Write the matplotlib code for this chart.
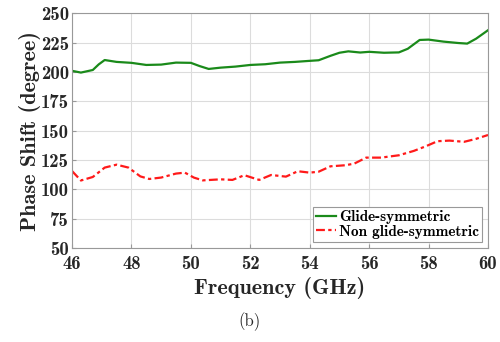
import matplotlib
matplotlib.use("Agg")
import matplotlib.pyplot as plt

freq_g = [46, 46.3, 46.7, 46.9, 47.1, 47.5, 48, 48.5, 49, 49.5, 50, 50.3, 50.6, 51, 51.5,
          52, 52.5, 53, 53.5, 54, 54.3, 54.7, 55, 55.3, 55.7, 56, 56.5, 57, 57.3,
          57.7, 58, 58.5, 59, 59.3, 59.6, 60]
glide = [201, 199.5, 201.7, 206.5, 210.2, 208.6, 207.8, 206, 206.3, 208, 207.8, 205, 202.6,
         203.7, 204.6, 206, 206.6, 208, 208.6, 209.5, 210, 213.8, 216.4, 217.6, 216.6,
         217.2, 216.4, 216.7, 219.8, 227.3, 227.6, 225.9, 224.7, 224.2, 228.4, 235.6]

freq_n = [46, 46.3, 46.7, 47.1, 47.5, 47.9, 48.3, 48.6, 49, 49.5, 49.8, 50.1, 50.4,
          51, 51.4, 51.8, 52.3, 52.7, 53.2, 53.6, 54, 54.3, 54.7, 55.2, 55.5, 55.9,
          56.4, 57, 57.5, 57.9, 58.3, 58.7, 59.2, 59.6, 60]
nonglide = [115.6, 107.5, 110.5, 118.5, 121, 118.5, 111, 108.8, 110, 113.4, 114.2, 110,
            107.6, 108.5, 108, 112, 108, 112.2, 110.8, 115.4, 114.2, 115, 119.6,
            120.5, 121.9, 127, 127, 129, 132.7, 136.6, 141, 141.5, 140.5, 143, 146.3]

xticks = [46, 48, 50, 52, 54, 56, 58, 60]
yticks = [50, 75, 100, 125, 150, 175, 200, 225, 250]

fig = plt.figure(figsize=(5, 3.42), dpi=100)
ax = fig.add_axes([0.144, 0.275, 0.832, 0.686])

ax.plot(freq_g, glide, color="#1a8a1a", lw=1.6, label="Glide-symmetric",
        solid_joinstyle="round")
ax.plot(freq_n, nonglide, color="#ff1a1a", lw=1.6, ls="-.", dashes=(4, 1.5, 1.5, 1.5),
        label="Non glide-symmetric")

ax.set_xlim(46, 60)
ax.set_ylim(50, 250)
ax.set_xticks(xticks)
ax.set_yticks(yticks)
ax.grid(True, color="#dcdcdc", lw=0.8)
for s in ax.spines.values():
    s.set_color("#999999")
    s.set_linewidth(0.8)
ax.tick_params(direction="in", length=3, color="#999999", labelsize=13.5)
ax.tick_params(axis="x", pad=5)
ax.tick_params(axis="y", pad=2)
for lab in ax.get_xticklabels() + ax.get_yticklabels():
    lab.set_fontfamily("cmb10")
    lab.set_color("#262626")

ax.set_xlabel("Frequency (GHz)", fontfamily="cmb10", fontsize=16, color="#262626", labelpad=3)
ax.set_ylabel("Phase Shift (degree)", fontfamily="cmb10", fontsize=16, color="#262626", labelpad=0)

leg = ax.legend(loc="lower right", prop={"family": "cmb10", "size": 11},
                fancybox=False, framealpha=1, edgecolor="#999999",
                handlelength=1.3, handletextpad=0.2, borderpad=0.2,
                labelspacing=0.05, borderaxespad=0.4)
leg.get_frame().set_linewidth(0.8)

fig.text(0.5, 0.045, "(b)", ha="center", fontfamily="cmr10", fontsize=12, color="#262626")

fig.savefig("out.png", dpi=100)
